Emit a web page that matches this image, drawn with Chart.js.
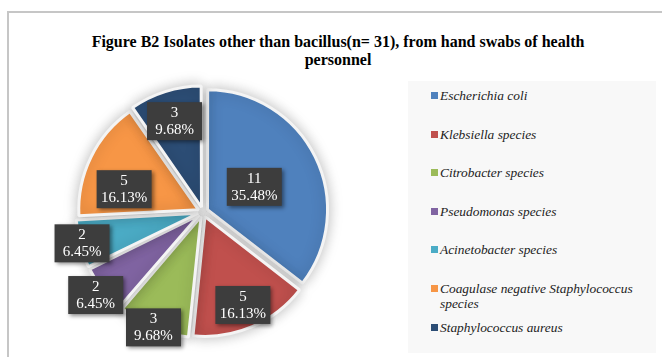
<!DOCTYPE html>
<html lang="en">
<head>
  <meta charset="UTF-8" />
  <title>Figure B2 Isolates other than bacillus</title>
  <style>
    body { margin: 0; padding: 0; background: #fff; overflow: hidden; }
    #wrap { position: relative; width: 662px; height: 357px; }
    #frame {
      position: absolute; left: 7px; top: 11px; width: 700px; height: 400px;
      border-top: 2px solid #c6c6c6; border-left: 2px solid #c6c6c6;
    }
    #title {
      position: absolute; left: 14px; top: 33px; width: 648px;
      text-align: center; white-space: nowrap;
      font: bold 16px/18px "Liberation Serif", "Times New Roman", serif; color: #000;
    }
    #legend {
      position: absolute; left: 408px; top: 81px; width: 248px; height: 272px;
      background: #f8f8f8;
    }
    .item {
      position: absolute; left: 23px; width: 215px;
      font: italic 13.4px/15px "Liberation Serif", "Times New Roman", serif; color: #222;
    }
    .item span.sw {
      position: absolute; left: 0; top: 4px; width: 7px; height: 7px;
    }
    .item span.tx { display: block; margin-left: 9px; }
    canvas { position: absolute; left: 0; top: 0; }
  </style>
</head>
<body>
  <div id="wrap">
    <div id="frame"></div>
    <div id="title">Figure B2 Isolates other than bacillus(n= 31), from hand swabs of health<br>personnel</div>
    <canvas id="pie" width="662" height="357"></canvas>
    <div id="legend"></div>
  </div>

  <script src="https://cdn.jsdelivr.net/npm/chart.js"></script>
  <script>
    // --- data ---
    const labels = [
      'Escherichia coli',
      'Klebsiella species',
      'Citrobacter species',
      'Pseudomonas species',
      'Acinetobacter species',
      'Coagulase negative Staphylococcus species',
      'Staphylococcus aureus'
    ];
    const counts = [11, 5, 3, 2, 2, 5, 3];
    const colors = ['#4f81bd', '#c0504d', '#9bbb59', '#8064a2', '#4bacc6', '#f79646', '#2c4d75'];

    // label placement (fraction of radius, angle tweak in degrees)
    const labelRadius = [0.48, 0.85, 1.055, 1.14, 1.05, 0.69, 0.8];
    const labelTurn = [0, 0, 0, 0, 0, -10, 0];

    const total = counts.reduce((a, b) => a + b, 0);

    // --- legend (html) ---
    const legend = document.getElementById('legend');
    labels.forEach((name, i) => {
      const el = document.createElement('div');
      el.className = 'item';
      el.style.top = (7 + i * 38.6) + 'px';
      el.innerHTML = '<span class="sw" style="background:' + colors[i] + '"></span><span class="tx">' + name + '</span>';
      legend.appendChild(el);
    });

    // soft shadow under the pie
    const pieShadow = {
      id: 'pieShadow',
      beforeDatasetsDraw(chart) {
        const ctx = chart.ctx;
        ctx.save();
        ctx.shadowColor = 'rgba(0,0,0,0.25)';
        ctx.shadowBlur = 14;
      },
      afterDatasetsDraw(chart) {
        chart.ctx.restore();
      }
    };

    // dark value boxes
    const valueBoxes = {
      id: 'valueBoxes',
      afterDatasetsDraw(chart) {
        const ctx = chart.ctx;
        const arcs = chart.getDatasetMeta(0).data;
        arcs.forEach((arc, i) => {
          const mid = (arc.startAngle + arc.endAngle) / 2 + labelTurn[i] * Math.PI / 180;
          const r = arc.outerRadius * labelRadius[i];
          const x = arc.x + Math.cos(mid) * r;
          const y = arc.y + Math.sin(mid) * r;
          const w = 55, h = 38;
          ctx.save();
          ctx.shadowColor = 'rgba(0,0,0,0.45)';
          ctx.shadowBlur = 4;
          ctx.shadowOffsetX = 2;
          ctx.shadowOffsetY = 2;
          ctx.fillStyle = '#3d3d3d';
          ctx.fillRect(x - w / 2, y - h / 2, w, h);
          ctx.restore();
          ctx.save();
          ctx.fillStyle = '#fff';
          ctx.font = '15px "Liberation Serif", serif';
          ctx.textAlign = 'center';
          ctx.textBaseline = 'middle';
          ctx.fillText(String(counts[i]), x, y - 8);
          ctx.fillText((counts[i] / total * 100).toFixed(2) + '%', x, y + 9);
          ctx.restore();
        });
      }
    };

    new Chart(document.getElementById('pie'), {
      type: 'pie',
      data: {
        labels: labels,
        datasets: [{
          data: counts,
          backgroundColor: colors,
          borderColor: '#f4f4f4',
          borderWidth: 3,
          offset: 20
        }]
      },
      options: {
        responsive: false,
        animation: false,
        radius: 119,
        layout: { padding: { left: 14, right: 270, top: 80, bottom: 13 } },
        plugins: {
          legend: { display: false },
          title: { display: false },
          tooltip: { enabled: false }
        }
      },
      plugins: [pieShadow, valueBoxes]
    });
  </script>
</body>
</html>
